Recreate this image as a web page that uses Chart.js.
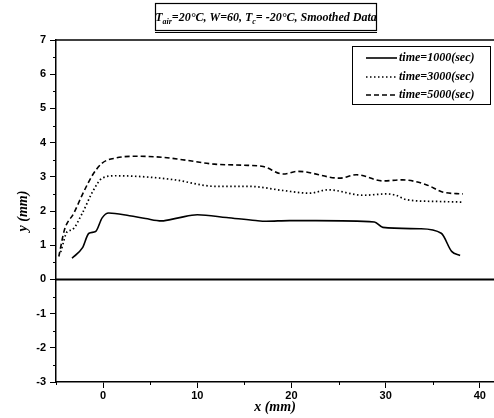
<!DOCTYPE html>
<html lang="en">
<head>
    <meta charset="UTF-8">
    <title>Smoothed Data</title>
    <style>
        body { margin: 0; background: #fff; }
        #wrap { width: 494px; height: 418px; }
    </style>
</head>
<body>
    <div id="wrap">
        <canvas id="profileChart" width="494" height="418"></canvas>
    </div>

    <script src="https://cdn.jsdelivr.net/npm/chart.js"></script>
    <script>
// values
const seriesLabels = ['time=1000(sec)', 'time=3000(sec)', 'time=5000(sec)'];

const x1000 = [-3.3, -2.2, -1.5, -0.8, -0.1, 0.6, 2.8, 4.5, 6.2, 8.0, 10.0, 13.1, 16.2, 17.3, 19.8, 22.6, 28.8, 29.7, 33.6, 35.9, 37.0, 37.9];
const y1000 = [0.62, 0.92, 1.35, 1.4, 1.8, 1.94, 1.86, 1.78, 1.71, 1.8, 1.89, 1.81, 1.72, 1.7, 1.72, 1.72, 1.68, 1.52, 1.48, 1.35, 0.82, 0.7];

const x3000 = [-4.5, -3.8, -3.3, -2.2, -1.1, -0.1, 1.35, 3.8, 7.4, 12.0, 15.5, 19.1, 21.9, 23.9, 27.6, 30.1, 31.1, 32.2, 35.4, 38.2];
const y3000 = [0.8, 1.4, 1.45, 1.94, 2.57, 2.96, 3.03, 3.01, 2.92, 2.72, 2.72, 2.6, 2.52, 2.62, 2.46, 2.5, 2.46, 2.33, 2.28, 2.26];

const x5000 = [-4.7, -4.1, -3.1, -2.2, -1.1, -0.1, 1.35, 3.5, 6.3, 8.4, 11.8, 14.8, 17.0, 19.1, 20.7, 25.1, 26.9, 29.7, 31.8, 34.3, 36.1, 38.2];
const y5000 = [0.67, 1.45, 1.94, 2.48, 3.06, 3.4, 3.55, 3.6, 3.57, 3.5, 3.37, 3.34, 3.3, 3.08, 3.16, 2.96, 3.06, 2.88, 2.91, 2.77, 2.55, 2.5];

const xTicks = [0, 10, 20, 30, 40];
const yTicks = [-3, -2, -1, 0, 1, 2, 3, 4, 5, 6, 7];

function toPoints(xs, ys) {
    return xs.map((x, i) => ({ x: x, y: ys[i] }));
}

const serif = '"Liberation Serif", "DejaVu Serif", serif';
const sans = '"Liberation Sans", Arial, sans-serif';

// frame top line, zero line, minor ticks, title box and legend
const decorPlugin = {
    id: 'decor',
    afterDraw(chart) {
        const ctx = chart.ctx;
        const area = chart.chartArea;
        const xs = chart.scales.x;
        const ys = chart.scales.y;
        ctx.save();
        ctx.strokeStyle = '#000';

        ctx.lineWidth = 1.5;
        ctx.beginPath();
        ctx.moveTo(area.left, area.top);
        ctx.lineTo(area.right, area.top);
        ctx.stroke();

        const y0 = ys.getPixelForValue(0);
        ctx.lineWidth = 2;
        ctx.beginPath();
        ctx.moveTo(area.left, y0);
        ctx.lineTo(area.right, y0);
        ctx.stroke();

        ctx.lineWidth = 1;
        for (let v = -2.5; v < 7; v += 1) {
            const py = Math.round(ys.getPixelForValue(v)) + 0.5;
            ctx.beginPath();
            ctx.moveTo(area.left - 3, py);
            ctx.lineTo(area.left, py);
            ctx.stroke();
        }
        for (let v = -5; v <= 35; v += 10) {
            const px = Math.round(xs.getPixelForValue(v)) + 0.5;
            ctx.beginPath();
            ctx.moveTo(px, area.bottom);
            ctx.lineTo(px, area.bottom + 3);
            ctx.stroke();
        }

        // title box
        ctx.lineWidth = 1.2;
        ctx.strokeRect(155.5, 3.5, 221, 27);
        ctx.beginPath();
        ctx.moveTo(155, 32.5);
        ctx.lineTo(377, 32.5);
        ctx.stroke();

        const parts = [
            ['T', 12, 0], ['air', 8, 3], ['=20°C, W=60, ', 12, 0],
            ['T', 12, 0], ['c', 8, 3], ['= -20°C, Smoothed Data', 12, 0]
        ];
        ctx.fillStyle = '#000';
        ctx.textBaseline = 'alphabetic';
        ctx.textAlign = 'left';
        let total = 0;
        parts.forEach(p => {
            ctx.font = 'italic bold ' + p[1] + 'px ' + serif;
            total += ctx.measureText(p[0]).width;
        });
        let tx = 266 - total / 2;
        parts.forEach(p => {
            ctx.font = 'italic bold ' + p[1] + 'px ' + serif;
            ctx.fillText(p[0], tx, 21 + p[2]);
            tx += ctx.measureText(p[0]).width;
        });

        // legend
        ctx.lineWidth = 1;
        ctx.strokeRect(352.5, 46.5, 138, 58);
        const rowY = [58, 77, 95];
        chart.data.datasets.forEach((ds, i) => {
            ctx.lineWidth = ds.borderWidth;
            ctx.setLineDash(ds.borderDash || []);
            ctx.beginPath();
            ctx.moveTo(366, rowY[i]);
            ctx.lineTo(397, rowY[i]);
            ctx.stroke();
            ctx.setLineDash([]);
            ctx.font = 'italic bold 12px ' + serif;
            ctx.textBaseline = 'middle';
            ctx.fillText(ds.label, 399, rowY[i]);
        });
        ctx.restore();
    }
};

const ctx = document.getElementById('profileChart').getContext('2d');

new Chart(ctx, {
    type: 'scatter',
    data: {
        datasets: [
            {
                label: seriesLabels[0],
                data: toPoints(x1000, y1000),
                borderColor: '#000',
                borderWidth: 1.6,
                borderDash: []
            },
            {
                label: seriesLabels[1],
                data: toPoints(x3000, y3000),
                borderColor: '#000',
                borderWidth: 1.7,
                borderDash: [1.5, 2.5]
            },
            {
                label: seriesLabels[2],
                data: toPoints(x5000, y5000),
                borderColor: '#000',
                borderWidth: 1.6,
                borderDash: [5, 3]
            }
        ]
    },
    options: {
        responsive: false,
        animation: false,
        showLine: true,
        elements: {
            point: { radius: 0 },
            line: { tension: 0.3, cubicInterpolationMode: 'monotone', fill: false }
        },
        layout: { padding: { top: 40, left: 0, right: 0, bottom: 0 } },
        plugins: {
            legend: { display: false },
            tooltip: { enabled: false }
        },
        scales: {
            x: {
                type: 'linear',
                min: -5,
                max: 41.5,
                afterBuildTicks: s => { s.ticks = xTicks.map(v => ({ value: v })); },
                afterFit: s => { s.height = 36; },
                grid: { drawOnChartArea: false, color: '#000', tickLength: 6, lineWidth: 1 },
                border: { color: '#000', width: 1.5 },
                ticks: { color: '#000', padding: 1, font: { family: sans, size: 11, weight: 'bold' } },
                title: {
                    display: true,
                    text: 'x (mm)',
                    color: '#000',
                    padding: { top: 0, bottom: 2 },
                    font: { family: serif, size: 14, style: 'italic', weight: 'bold' }
                }
            },
            y: {
                min: -3,
                max: 7,
                afterBuildTicks: s => { s.ticks = yTicks.map(v => ({ value: v })); },
                afterFit: s => { s.width = 56; },
                grid: { drawOnChartArea: false, color: '#000', tickLength: 6, lineWidth: 1 },
                border: { color: '#000', width: 1.5 },
                ticks: { color: '#000', padding: 4, font: { family: sans, size: 11, weight: 'bold' } },
                title: {
                    display: true,
                    text: 'y (mm)',
                    color: '#000',
                    padding: { top: 15, bottom: 0 },
                    font: { family: serif, size: 14, style: 'italic', weight: 'bold' }
                }
            }
        }
    },
    plugins: [decorPlugin]
});
</script>
</body>
</html>
